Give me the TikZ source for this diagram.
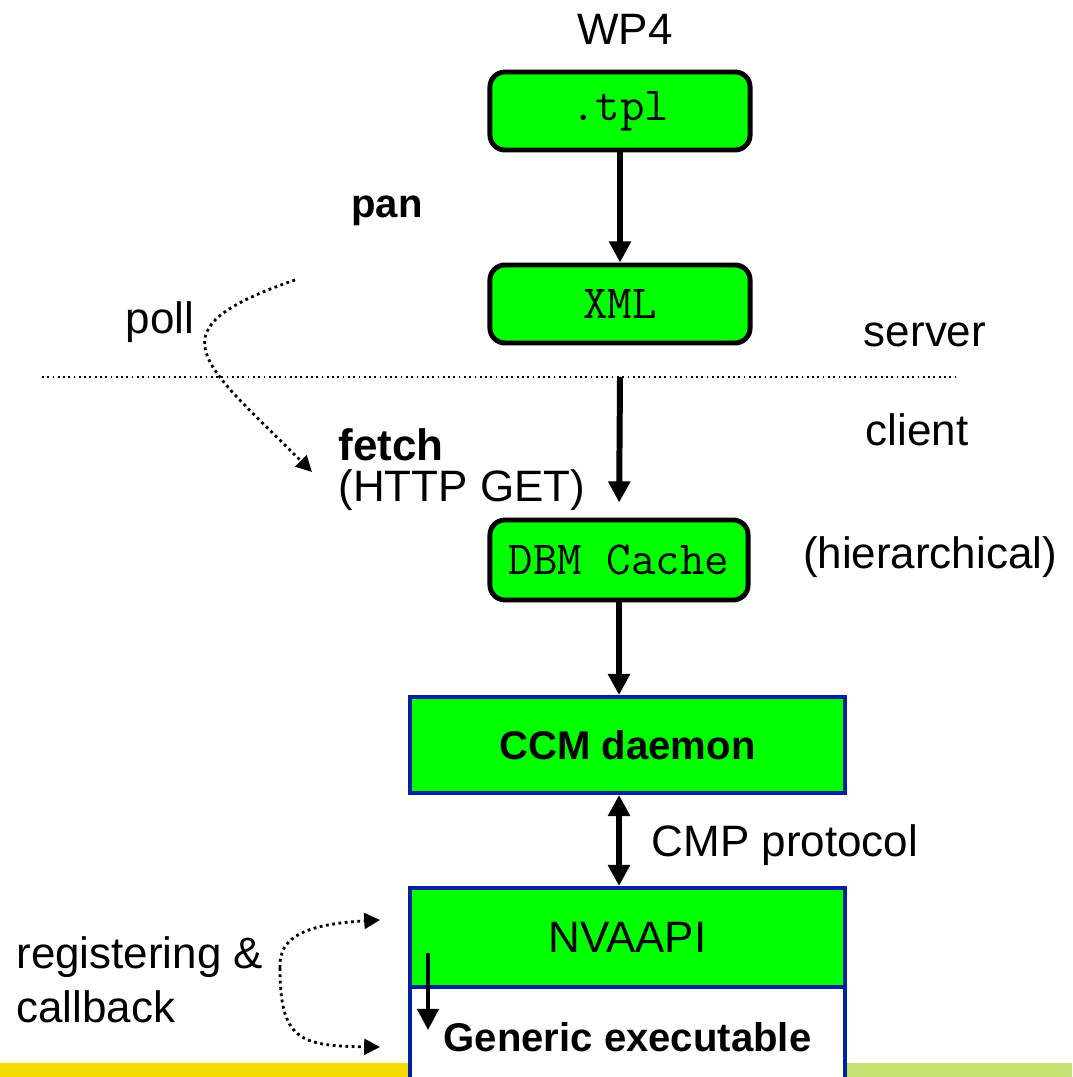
\documentclass[tikz,border=0pt]{standalone}
\usepackage{fontspec}
\setmainfont{Liberation Sans}
\usetikzlibrary{arrows.meta}
\definecolor{boxgreen}{RGB}{0,255,0}
\definecolor{boxblue}{RGB}{0,34,160}
\definecolor{baryellow}{RGB}{245,220,0}
\definecolor{barlime}{RGB}{197,224,112}
\begin{document}
\begin{tikzpicture}[
        x=0.01cm, y=-0.01cm,
        file/.style={draw, line width=1.4pt, rounded corners=0.15cm, fill=boxgreen,
            minimum width=2.6cm, minimum height=0.78cm, font=\fontsize{13.5}{16}\selectfont\ttfamily},
        proc/.style={draw=boxblue, line width=1.1pt, fill=boxgreen,
            minimum width=4.35cm, font=\fontsize{11.4}{14}\selectfont\bfseries},
        txt/.style={font=\fontsize{12.5}{15}\selectfont},
        bld/.style={font=\fontsize{11.4}{14}\selectfont\bfseries},
        flow/.style={->, line width=1.7pt},
        hint/.style={->, densely dotted, line width=0.8pt, >={Triangle[length=4.5pt,width=4.5pt]}},
        >={Triangle[length=6pt,width=6pt]}
    ]
        \useasboundingbox (0,0) rectangle (1072,1077);
        \clip (0,0) rectangle (1072,1077);

        % bottom bars
        \fill[baryellow] (0,1063) rectangle (410,1077);
        \fill[barlime] (845,1063) rectangle (1072,1077);

        % server side
        \node[txt] (wp) at (625,29) {WP4};
        \node[file] (tpl) at (620,111) {.tpl};
        \node[file] (xml) at (620,304) {XML};
        \node[bld] (pan) at (387,211) {pan};
        \node[txt] (server) at (925,335) {server};

        % separator between server and client
        \coordinate (sepl) at (42,377);
        \coordinate (sepr) at (955,377);
        \coordinate (lan) at (620,377);
        \draw[densely dotted, line width=0.5pt] (sepl) -- (sepr);

        % client side
        \node[txt] (client) at (917,430) {client};
        \node[txt] (poll) at (160,322) {poll};
        \node[bld, font=\fontsize{12.5}{15}\selectfont\bfseries, anchor=west] (fetch) at (326,445) {fetch};
        \node[txt, anchor=west] (get) at (326,490) {(HTTP GET)};
        \node[file, minimum width=2.58cm, minimum height=0.8cm] (dbm) at (619,560) {DBM Cache};
        \node[txt] (hier) at (930,557) {(hierarchical)};
        \node[proc, minimum height=0.96cm] (ccm) at (627.5,745) {CCM daemon};
        \node[txt] (cmp) at (785,845) {CMP protocol};
        \node[proc, font=\fontsize{12.5}{15}\selectfont, minimum height=0.99cm] (api) at (627.5,937.5) {NVAAPI};
        \node[proc, fill=white, minimum height=1cm] (exe) at (627.5,1037) {Generic executable};
        \node[txt, anchor=west] (reg) at (4,957) {registering \&};
        \node[txt, anchor=west] (cb) at (4,1007) {callback};

        % main flow
        \draw[flow] (tpl) -- (xml);
        \draw[flow, shorten >=0.15cm] (lan) -- (dbm.north);
        \draw[flow] (dbm.south) -- (dbm.south |- ccm.north);
        \draw[flow, <->] (ccm.south -| dbm.south) -- (api.north -| dbm.south);

        % callback into the executable
        \coordinate (cbtop) at (428,953);
        \coordinate (cbbot) at (428,1030);
        \draw[->, line width=1.2pt] (cbtop) -- (cbbot);

        % poll / fetch hint
        \coordinate (pollstart) at (295,280);
        \coordinate (pollend) at (312,472);
        \draw[hint] (pollstart) .. controls (150,330) and (200,360) .. (pollend);

        % registering hints
        \coordinate (regfork) at (280,968);
        \coordinate (regup) at (380,920);
        \coordinate (regdown) at (380,1047);
        \draw[hint] (regfork) .. controls (278,935) and (310,924) .. (regup);
        \draw[hint] (regfork) .. controls (280,1040) and (300,1046) .. (regdown);
\end{tikzpicture}
\end{document}
